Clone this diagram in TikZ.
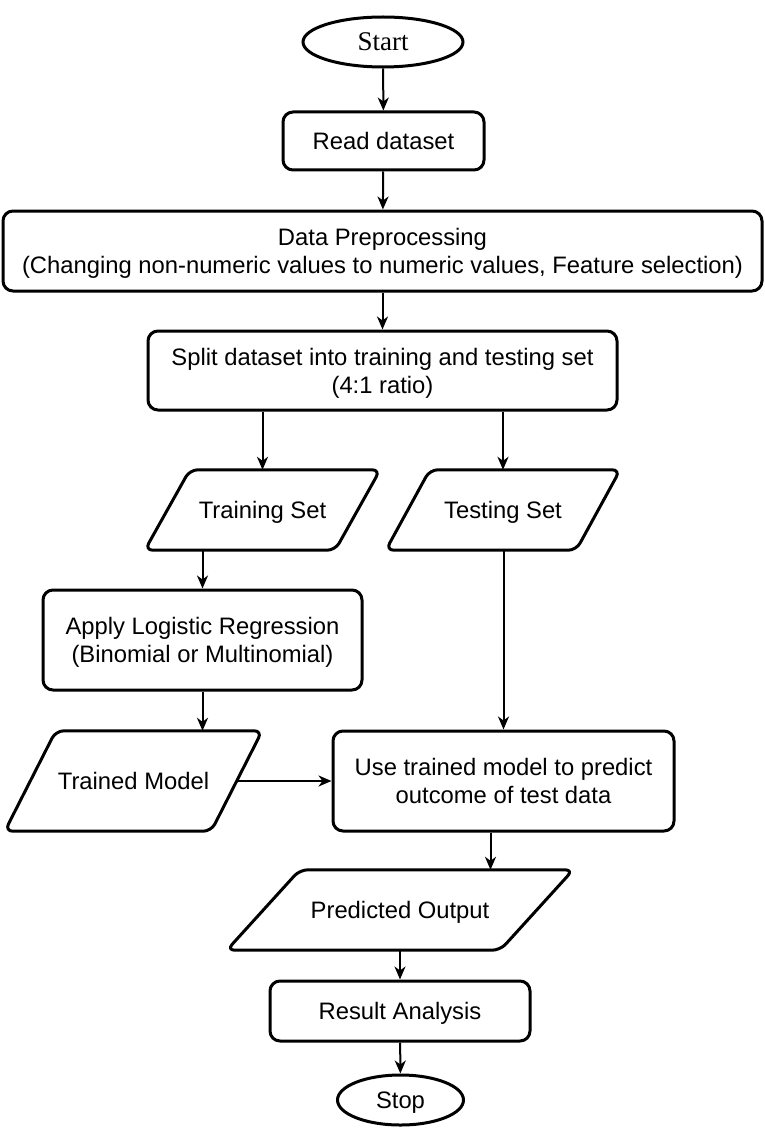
\documentclass[tikz,border=0pt]{standalone}
\usepackage{fontspec}
\setmainfont{Liberation Sans}
\newfontfamily\serifstart{Liberation Serif}
\usetikzlibrary{shapes.geometric,arrows.meta,calc}
\tikzset{
  txt/.style={font=\fontsize{23.8}{28}\selectfont, align=center, inner sep=0pt, text depth=-1pt},
  procbox/.style={txt, draw, line width=3pt, rounded corners=10pt},
  term/.style={txt, draw, ellipse, line width=3pt},
  iobox/.style={txt, draw=none},
  paraline/.style={line width=3pt, rounded corners=8pt},
  arr/.style={line width=2pt, -{Stealth[length=13pt,width=11pt,inset=4pt]}}
}
\newcommand\drawpara[2]{%
  \draw[paraline] ($(#1.north west)+(#2,0)$) -- ($(#1.north east)+(#2,0)$) -- ($(#1.south east)+(-#2,0)$) -- ($(#1.south west)+(-#2,0)$) -- cycle;}
\begin{document}
\begin{tikzpicture}[x=1pt,y=-1pt]
\useasboundingbox (0,0) rectangle (764,1134);
\node[term, minimum width=160pt, minimum height=50pt, font=\serifstart\fontsize{27}{30}\selectfont] (start) at (383,42) {Start};
\node[procbox, minimum width=201pt, minimum height=58pt] (read) at (383.5,141) {Read dataset};
\node[procbox, minimum width=759pt, minimum height=80pt] (prep) at (382.5,251) {Data Preprocessing\\(Changing non-numeric values to numeric values, Feature selection)};
\node[procbox, minimum width=469pt, minimum height=79pt] (split) at (382.5,370.5) {Split dataset into training and testing set\\(4:1 ratio)};
\node[iobox, minimum width=190pt, minimum height=80pt] (train) at (262.5,510) {Training Set};
\drawpara{train}{22.5}
\node[iobox, minimum width=190pt, minimum height=80pt] (test) at (503,510) {Testing Set};
\drawpara{test}{22}
\node[procbox, minimum width=319pt, minimum height=100pt] (apply) at (202.5,640) {Apply Logistic Regression\\(Binomial or Multinomial)};
\node[iobox, minimum width=206pt, minimum height=100pt] (model) at (133.5,781) {Trained Model};
\drawpara{model}{25.5}
\node[procbox, minimum width=341pt, minimum height=100pt] (use) at (503.5,781) {Use trained model to predict\\outcome of test data};
\node[iobox, minimum width=273pt, minimum height=80pt] (pred) at (400,910) {Predicted Output};
\drawpara{pred}{36.5}
\node[procbox, minimum width=260pt, minimum height=60pt] (res) at (400,1011) {Result Analysis};
\node[term, minimum width=126pt, minimum height=50pt] (stop) at (400.5,1100) {Stop};

\draw[arr] (start) -- (read);
\draw[arr] (read) -- (prep);
\draw[arr] (prep.south -| split.north) -- (split.north);
\draw[arr] (split.south -| train.north) -- (train.north);
\draw[arr] (split.south -| test.north) -- (test.north);
\draw[arr] (apply.north |- train.south) -- (apply.north);
\draw[arr] (apply.south) -- (apply.south |- model.north);
\draw[arr] (use.north |- test.south) -- (use.north);
\draw[arr] (model.east) -- (use.west);
\draw[arr] ([xshift=-13pt]use.south) -- ([xshift=-13pt]use.south |- pred.north);
\draw[arr] (res.north |- pred.south) -- (res.north);
\draw[arr] (res) -- (stop);
\end{tikzpicture}
\end{document}
